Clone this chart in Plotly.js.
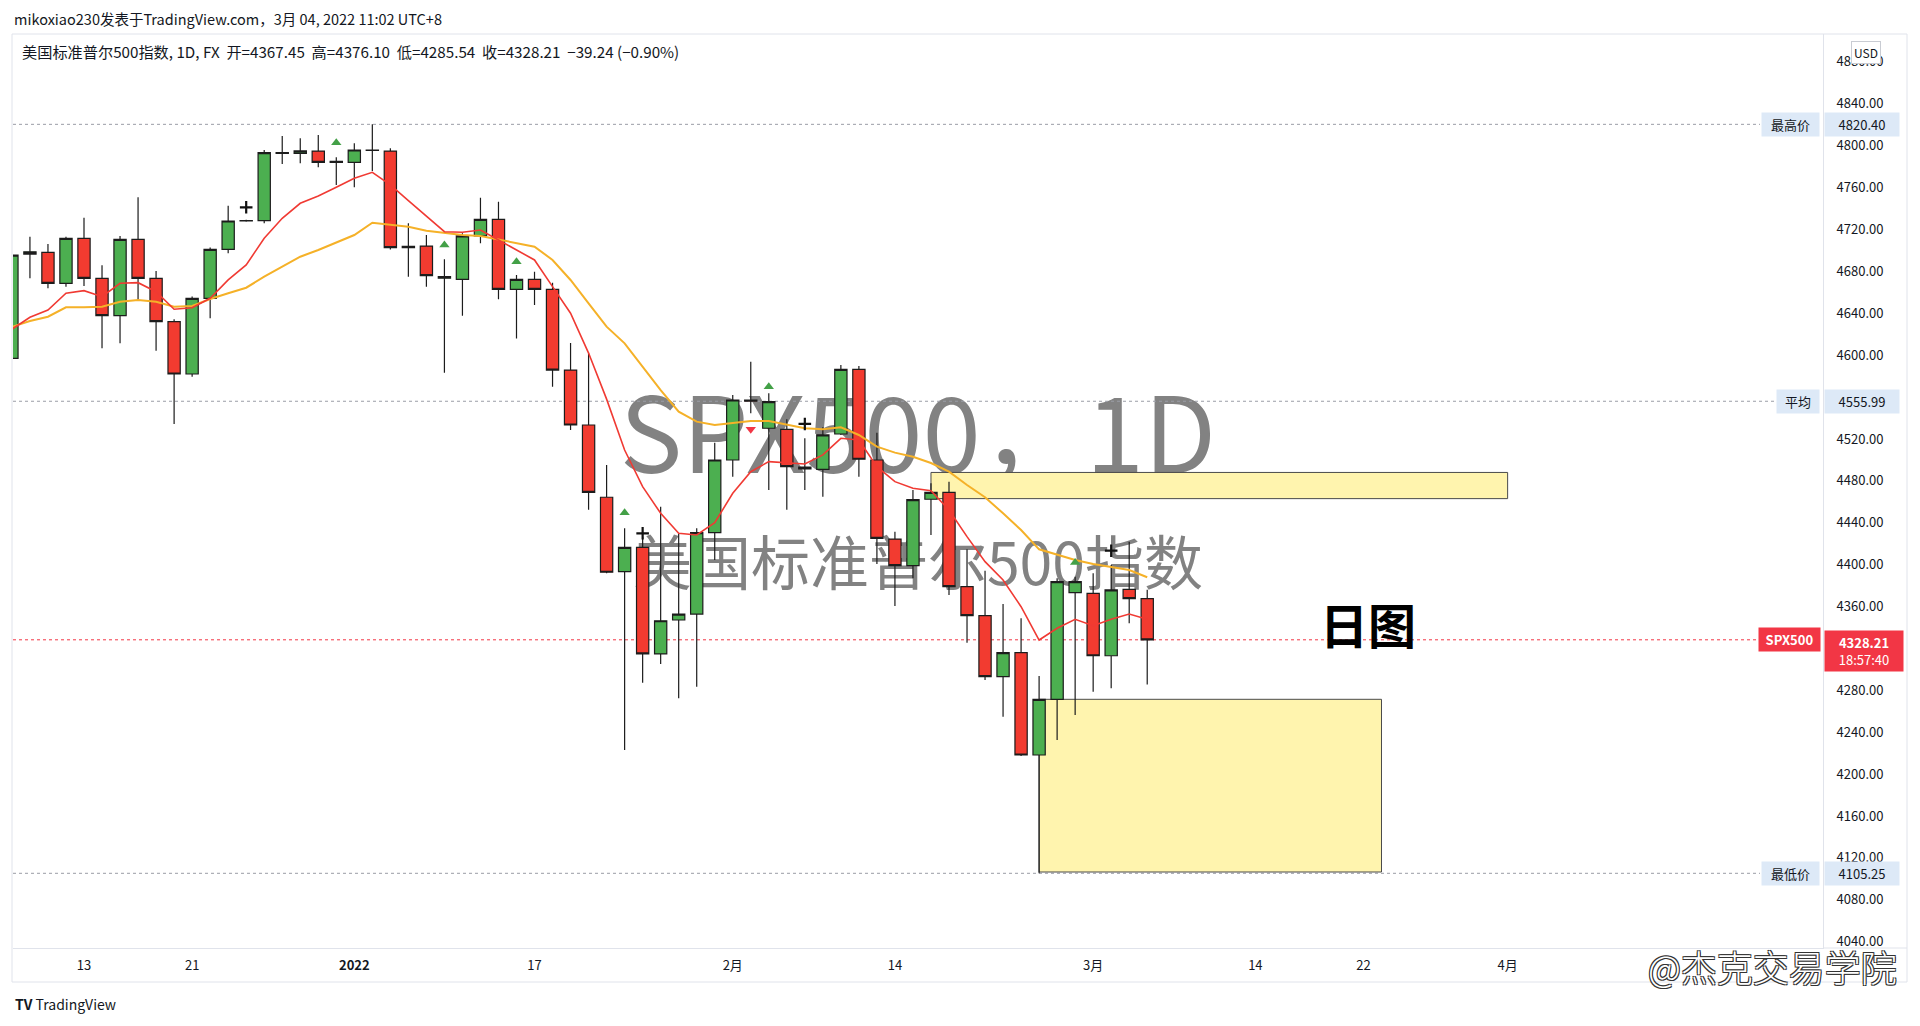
<!DOCTYPE html>
<html><head><meta charset="utf-8">
<script src="https://cdn.plot.ly/plotly-3.0.1.min.js"></script>
<style>html,body{margin:0;padding:0;background:#fff;overflow:hidden}#chart{width:1920px;height:1026px}</style>
</head><body><div id="chart"></div>
<script>
// ---------------- data ----------------
const dates = [
 '2021-12-07','2021-12-08','2021-12-09','2021-12-10','2021-12-13','2021-12-14','2021-12-15','2021-12-16','2021-12-17',
 '2021-12-20','2021-12-21','2021-12-22','2021-12-23','2021-12-24','2021-12-27','2021-12-28','2021-12-29','2021-12-30','2021-12-31',
 '2022-01-03','2022-01-04','2022-01-05','2022-01-06','2022-01-07','2022-01-10','2022-01-11','2022-01-12','2022-01-13','2022-01-14',
 '2022-01-17','2022-01-18','2022-01-19','2022-01-20','2022-01-21','2022-01-24','2022-01-25','2022-01-26','2022-01-27','2022-01-28','2022-01-31',
 '2022-02-01','2022-02-02','2022-02-03','2022-02-04','2022-02-07','2022-02-08','2022-02-09','2022-02-10','2022-02-11',
 '2022-02-14','2022-02-15','2022-02-16','2022-02-17','2022-02-18','2022-02-21','2022-02-22','2022-02-23','2022-02-24','2022-02-25','2022-02-28',
 '2022-03-01','2022-03-02','2022-03-03','2022-03-04'];
const opens = [
 4597,4696.5,4698.2,4668.6,4711.6,4673.4,4637.7,4710.6,4673.4,
 4632,4582,4654.3,4701,4728.1,4728.4,4793.3,4792.6,4794.9,4784.1,
 4784.1,4795.9,4794.9,4702.6,4704.2,4673.5,4672.4,4713.8,4729.7,4662.9,
 4672.4,4662.9,4585.8,4533.3,4464.3,4393.3,4416.5,4314.7,4347.1,4352.8,4430.5,
 4499.9,4557,4530.2,4529.2,4493,4491,4524.7,4586.5,4499.9,
 4424.4,4399,4462.4,4469,4378.9,4351.2,4293,4315.9,4218.2,4271.4,4373.2,
 4372.6,4313,4376.4,4367.45];
const highs = [
 4700,4713.1,4706.1,4713,4731.3,4685.8,4713.8,4750.7,4680.4,
 4634.2,4656,4702.7,4742.7,4729.2,4795.9,4809.3,4807,4810.2,4788.9,
 4802.3,4820.4,4797.5,4725.9,4714.7,4691.5,4716.4,4750.4,4746.5,4676.5,
 4679.7,4669.2,4611.5,4602.4,4495.1,4434.7,4426.6,4455.3,4429.9,4434.7,4516.4,
 4562,4593.8,4563.6,4538.7,4520.6,4531.1,4590.6,4589.6,4525.9,
 4431.4,4471.3,4477.6,4479.2,4414.6,4394.2,4362.4,4348.7,4293.7,4386.9,4388.5,
 4391.7,4399.6,4421.9,4376.10];
const lows = [
 4590,4673.4,4663.8,4665.4,4666,4606.5,4611.3,4652,4604.3,
 4534.3,4579.4,4635.2,4697.3,4727.4,4725.9,4782.5,4783.2,4779.4,4762.5,
 4760.3,4775.8,4701,4674.9,4665.4,4583.3,4637.7,4706.8,4653.3,4616,
 4647.9,4569.9,4528.5,4452.4,4391.7,4223,4287.3,4305.1,4272.4,4283.5,4404.4,
 4484,4544.5,4471.2,4452.4,4471.2,4464.9,4523.8,4484,4400.6,
 4360.5,4387,4428.3,4371,4325.5,4289.8,4254.8,4217.3,4105.25,4232.5,4256.4,
 4278.6,4281.9,4344,4285.54];
const closes = [
 4695.6,4698.7,4668.6,4711.6,4673.4,4637.7,4710.6,4673.4,4632,
 4582,4654.3,4701,4728.1,4728.4,4793.3,4792.6,4795,4784.1,4785,
 4795.9,4795.5,4702.6,4704,4675.9,4675,4713.8,4729.7,4662.9,4672.4,
 4662.9,4585.8,4533.3,4468.9,4392.7,4416.5,4314.7,4346.4,4352.8,4430.5,4499.9,
 4557.2,4556,4555.6,4493.5,4491.5,4523.8,4586.5,4500.6,4425.1,
 4399,4462,4469,4378.9,4351.2,4293,4315.9,4218.2,4271.4,4383.7,4383.7,
 4313,4375.8,4367.45,4328.21];
// fast moving average (red line) and slow moving average (orange line)
const maFast = [
 4624.7,4636.2,4643.1,4659.1,4661.6,4655.8,4668.6,4669.2,4660.6,
 4643.8,4645.3,4654.3,4671.8,4686.1,4711.6,4730.7,4745,4752,4760.3,
 4768.9,4774.6,4762.5,4747.5,4732.9,4717.9,4717.3,4719.5,4710,4700.4,
 4690.9,4665.4,4640,4602,4558,4509.4,4474.4,4449,4429.9,4428.3,4440,
 4468.1,4488.7,4498.3,4497.3,4496.1,4504.7,4520.6,4519,4493.5,
 4479.2,4472.9,4470.6,4452.2,4426.7,4402.8,4385.3,4359.8,4328,4339.2,4347.8,
 4341.7,4347.8,4352.8,4347.8];
const maSlow = [
 4627,4632.6,4636.7,4645.7,4645.7,4646.3,4651,4652.7,4651,
 4646.3,4646.9,4653.6,4659.1,4664.4,4674.9,4684.5,4694,4700.4,4707.8,
 4714.7,4726.5,4724.3,4722.7,4718.8,4716.4,4714.7,4713.8,4710.6,4706.8,
 4703.6,4690.9,4671.8,4649.5,4627.2,4611.3,4589,4566.7,4546,4536.5,4533.3,
 4535.5,4537.1,4537.1,4533.3,4530.2,4529.2,4531.1,4523.8,4512.6,
 4506.9,4503,4497,4488.7,4476,4464.3,4449,4433,4414.6,4409.2,4404.4,
 4400.6,4398,4394.9,4387.9];
// signal markers
const upSignalDates = ['2021-12-31','2022-01-10','2022-01-14','2022-01-24','2022-02-03','2022-02-28'];
const upSignalPrices = [4802.9,4705.2,4689.3,4449.6,4569.9,4402];
const downSignalDates = ['2022-02-02'];
const downSignalPrices = [4529.2];
const crossDates = ['2021-12-24','2022-01-25','2022-02-07','2022-03-02'];
const crossPrices = [4741.2,4429.9,4534.3,4413.3];
// drawn zones
const zoneStart = ['2022-02-16','2022-02-24'];
const zoneEnd = ['2022-04-01','2022-03-23'];
const zoneLow = [4463,4106.5];
const zoneHigh = [4488,4271.4];
// price scale marks
const levelNames = ['最高价','平均','最低价','SPX500'];
const levelValues = [4820.40,4555.99,4105.25,4328.21];
const priceTicks = [4040,4080,4120,4160,4200,4240,4280,4360,4400,4440,4480,4520,4600,4640,4680,4720,4760,4800,4840,4880];
const timeTickDates = ['2021-12-13','2021-12-21','2022-01-03','2022-01-17','2022-02-01','2022-02-14','2022-03-01','2022-03-14','2022-03-22','2022-04-01'];
const timeTickLabels = ['13','21','<b>2022</b>','17','2月','14','3月','14','22','4月'];

// ---------------- helpers ----------------
const DAY = 86400000;
function tradingIndex(ds){
  const start = Date.parse(dates[0]+'T00:00:00Z');
  const end = Date.parse(ds+'T00:00:00Z');
  let n = 0;
  for(let t = start + DAY; t <= end; t += DAY){
    const wd = new Date(t).getUTCDay();
    if(wd !== 0 && wd !== 6) n++;
  }
  return n;
}
const ML = 13, MR = 97, MT = 34, MB = 78, W = 1920, H = 1026;
const PW = W - ML - MR, PH = H - MT - MB;
const px = x => (x - ML) / PW;
const py = y => (H - MB - y) / PH;

const FONT = 'Noto Sans CJK SC, Noto Sans, sans-serif';
const TXT = '#131722';
const SP = '\u00a0';
const xs = dates.map(tradingIndex);

const traces = [
  {type:'candlestick', x: xs, open: opens, high: highs, low: lows, close: closes,
   increasing:{fillcolor:'#4caf50', line:{color:'#1c1c1c', width:1.2}},
   decreasing:{fillcolor:'#f23b30', line:{color:'#1c1c1c', width:1.2}},
   whiskerwidth:0, hoverinfo:'skip', showlegend:false},
  {type:'scatter', mode:'lines', x: xs, y: maSlow, line:{color:'#f5b128', width:2}, hoverinfo:'skip', showlegend:false},
  {type:'scatter', mode:'lines', x: xs, y: maFast, line:{color:'#f03a33', width:1.6}, hoverinfo:'skip', showlegend:false},
  {type:'scatter', mode:'markers', x: upSignalDates.map(tradingIndex), y: upSignalPrices,
   marker:{symbol:'triangle-up', size:9, color:'#43a047'}, hoverinfo:'skip', showlegend:false},
  {type:'scatter', mode:'markers', x: downSignalDates.map(tradingIndex), y: downSignalPrices,
   marker:{symbol:'triangle-down', size:9, color:'#f23645'}, hoverinfo:'skip', showlegend:false},
  {type:'scatter', mode:'markers', x: crossDates.map(tradingIndex), y: crossPrices,
   marker:{symbol:'cross-thin', size:9, line:{width:2.2, color:'#111'}}, hoverinfo:'skip', showlegend:false}
];

const shapes = [];
// outer frame of the chart pane
shapes.push({type:'rect', xref:'paper', yref:'paper', x0:px(12), x1:px(1907), y0:py(982), y1:py(34), line:{color:'#e0e3eb', width:1}, layer:'below'});
shapes.push({type:'line', xref:'paper', yref:'paper', x0:px(1823), x1:px(1907), y0:0, y1:0, line:{color:'#e0e3eb', width:1}});
// watermark
shapes.push({type:'rect', xref:'paper', yref:'paper', x0:0, x1:1, y0:py(499), y1:py(389), line:{width:0}, fillcolor:'rgba(0,0,0,0)', layer:'below',
  label:{text:'SPX500，1D', textposition:'middle center', font:{family:FONT, size:105, color:'#828282'}}});
shapes.push({type:'rect', xref:'paper', yref:'paper', x0:0, x1:1, y0:py(606), y1:py(531), line:{width:0}, fillcolor:'rgba(0,0,0,0)', layer:'below',
  label:{text:'美国标准普尔500指数', textposition:'middle center', font:{family:FONT, size:59, color:'#828282'}}});
// zones
for(let k=0;k<zoneStart.length;k++){
  shapes.push({type:'rect', xref:'x', yref:'y', x0:tradingIndex(zoneStart[k]), x1:tradingIndex(zoneEnd[k]),
    y0:zoneLow[k], y1:zoneHigh[k], fillcolor:'#fff4ae', line:{color:'#4a4a4a', width:1}, layer:'below'});
}
// level lines
const levelLineEnd = [px(1760), px(1776), px(1760), px(1758)];
const annotations = [];
for(let k=0;k<levelNames.length;k++){
  const isLast = k === 3;
  shapes.push({type:'line', xref:'paper', yref:'y', x0:0, x1:levelLineEnd[k], y0:levelValues[k], y1:levelValues[k],
    line:{color: isLast ? '#f23645' : '#9a9da6', width:1, dash:'dot'}, layer:'below'});
  const nameW = isLast ? 57 : (levelNames[k].length === 2 ? 38 : 53);
  annotations.push({xref:'paper', yref:'y', x:px(isLast ? 1821 : 1820), y:levelValues[k], xanchor:'right', yanchor:'middle',
    text: isLast ? '<b>'+levelNames[k]+'</b>' : levelNames[k], showarrow:false, width:nameW, align:'center', borderpad:2,
    bgcolor: isLast ? '#f23645' : '#dde9f7', font:{family:FONT, size:13, color: isLast ? '#fff' : TXT}});
  annotations.push({xref:'paper', yref:'y', x:px(1823.5), y:levelValues[k], xanchor:'left', yanchor: isLast ? 'top' : 'middle',
    yshift: isLast ? 10 : 0,
    text: isLast ? '<b>'+levelValues[k].toFixed(2)+'</b><br>18:57:40' : levelValues[k].toFixed(2),
    showarrow:false, width: isLast ? 74 : 70, align:'center', borderpad:2,
    bgcolor: isLast ? '#f23645' : '#dde9f7', font:{family:FONT, size:13, color: isLast ? '#fff' : TXT}});
}
// texts
annotations.push({xref:'paper', yref:'paper', x:px(12), y:py(18), xanchor:'left', yanchor:'middle', showarrow:false,
  text:'mikoxiao230发表于TradingView.com，3月 04, 2022 11:02 UTC+8', font:{family:FONT, size:14.5, color:TXT}});
annotations.push({xref:'paper', yref:'paper', x:px(20), y:py(51), xanchor:'left', yanchor:'middle', showarrow:false,
  text:'美国标准普尔500指数, 1D, FX'+SP+SP+'开=4367.45'+SP+SP+'高=4376.10'+SP+SP+'低=4285.54'+SP+SP+'收=4328.21'+SP+SP+'−39.24 (−0.90%)',
  font:{family:FONT, size:15.2, color:TXT}});
annotations.push({xref:'paper', yref:'paper', x:px(1866), y:py(52), xanchor:'center', yanchor:'middle', showarrow:false,
  text:'USD', bgcolor:'#ffffff', bordercolor:'#c9ccd3', borderwidth:1, borderpad:2, font:{family:FONT, size:12, color:TXT}});
annotations.push({xref:'paper', yref:'paper', x:px(1368), y:py(623), xanchor:'center', yanchor:'middle', showarrow:false,
  text:'<b>日图</b>', font:{family:FONT, size:48, color:'#000'}});
annotations.push({xref:'paper', yref:'paper', x:px(1772), y:py(966), xanchor:'center', yanchor:'middle', showarrow:false,
  text:'@杰克交易学院', font:{family:FONT, size:36, color:'#ffffff', weight:300,
  shadow:'-1px -1px 0 #333, 1px -1px 0 #333, -1px 1px 0 #333, 1px 1px 0 #333'}});
annotations.push({xref:'paper', yref:'paper', x:px(13), y:py(1004), xanchor:'left', yanchor:'middle', showarrow:false,
  text:'<b>TV</b> TradingView', font:{family:FONT, size:14, color:TXT}});

const layout = {
  width:W, height:H, margin:{l:ML, r:MR, t:MT, b:MB, pad:0},
  paper_bgcolor:'#ffffff', plot_bgcolor:'#ffffff',
  showlegend:false, hovermode:false, dragmode:false,
  boxgap:0.32, boxgroupgap:0,
  xaxis:{type:'linear', range:[0.06, 100.5], showgrid:false, zeroline:false, showline:true, linecolor:'#e0e3eb', linewidth:1,
    tickmode:'array', tickvals:timeTickDates.map(tradingIndex), ticktext:timeTickLabels, ticks:'', ticklabelstandoff:5,
    tickfont:{family:FONT, size:13, color:TXT}, rangeslider:{visible:false}, fixedrange:true},
  yaxis:{side:'right', range:[4033.93, 4906.65], showgrid:false, zeroline:false, showline:true, linecolor:'#e0e3eb', linewidth:1,
    tickmode:'array', tickvals:priceTicks, ticktext:priceTicks.map(v=>v.toFixed(2)), ticks:'', ticklabelstandoff:10,
    tickfont:{family:FONT, size:13, color:TXT}, fixedrange:true},
  shapes:shapes, annotations:annotations
};
Plotly.newPlot('chart', traces, layout, {staticPlot:true, displayModeBar:false});
</script></body></html>
